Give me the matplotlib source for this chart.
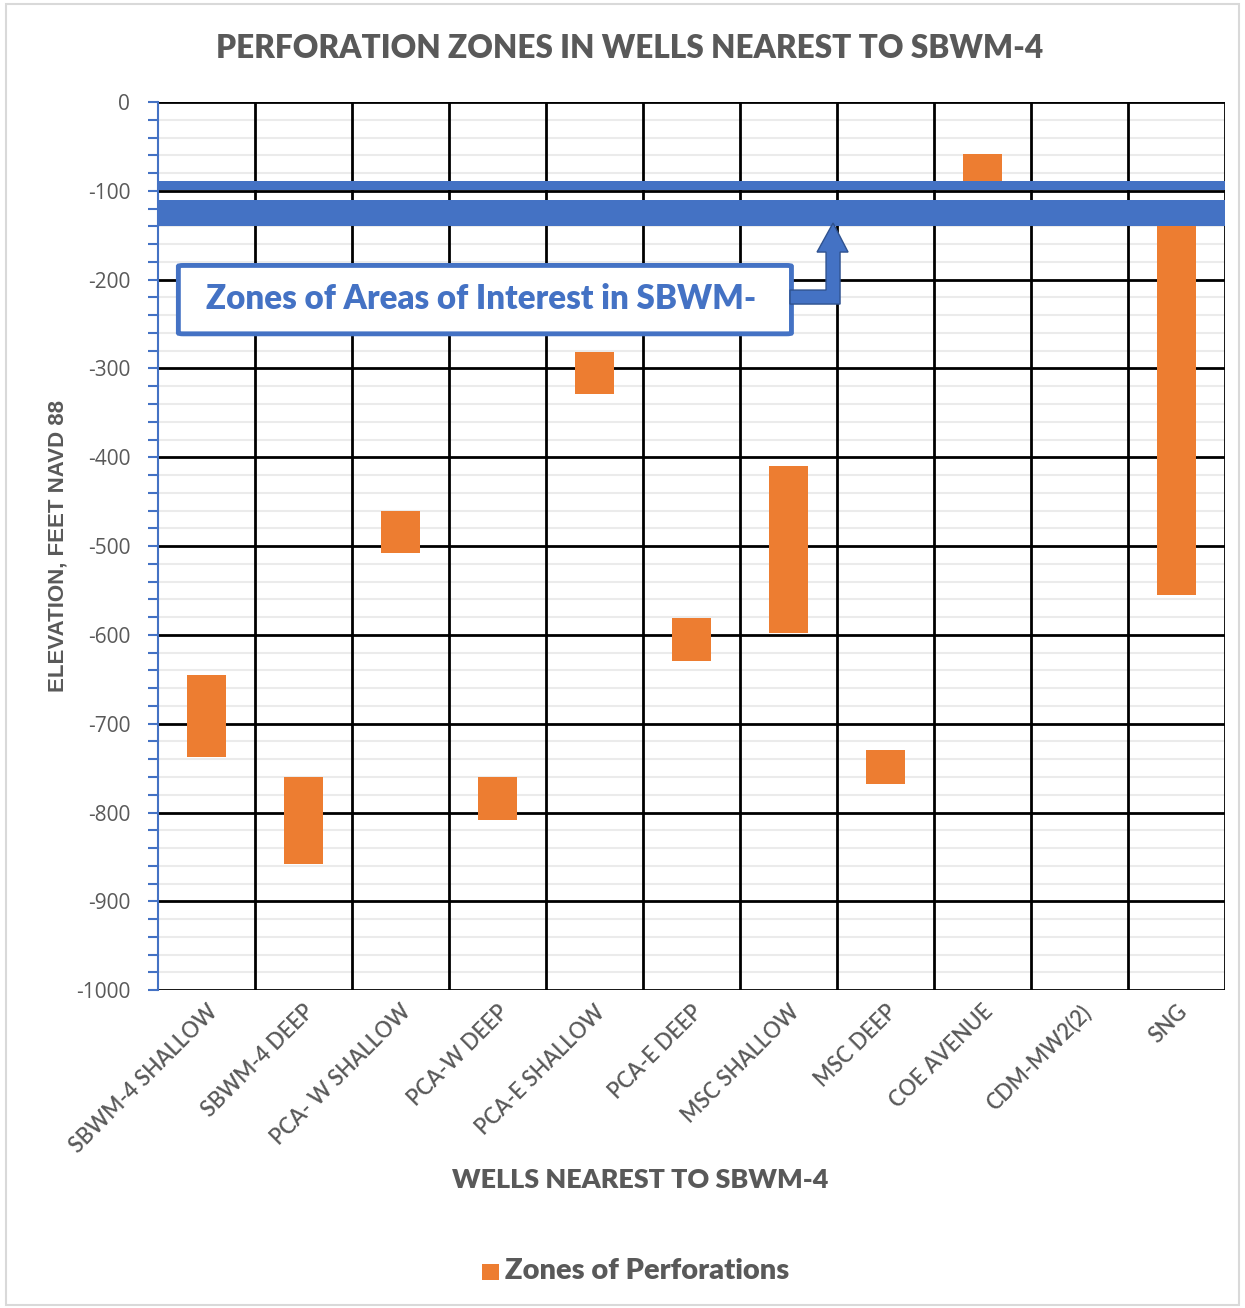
import matplotlib
matplotlib.use("Agg")
import matplotlib.pyplot as plt
from matplotlib.patches import FancyBboxPatch, Polygon, Rectangle
from matplotlib.ticker import MultipleLocator

plt.rcParams['font.family'] = ['Lato', 'DejaVu Sans']

# well names and perforation zones (feet NAVD 88)
wells = ["SBWM-4 SHALLOW", "SBWM-4 DEEP", "PCA- W SHALLOW", "PCA-W DEEP",
         "PCA-E SHALLOW", "PCA-E DEEP", "MSC SHALLOW", "MSC DEEP",
         "COE AVENUE", "CDM-MW2(2)", "SNG"]
zone_top = [-645, -760, -460, -760, -282, -581, -410, -730, -59, None, -140]
zone_bottom = [-738, -858, -508, -808, -329, -629, -598, -768, -89, None, -555]

# zones of interest in SBWM-4 (blue bands)
interest_top = [-88.5, -110]
interest_bottom = [-98.5, -140]

orange = "#ED7D31"
blue = "#4472C4"
gray = "#595959"

fig = plt.figure(figsize=(12.45, 13.08), dpi=100)
ax = fig.add_axes([0.1269, 0.243, 0.984 - 0.1269, 0.922 - 0.243])
ax.set_axisbelow(True)

xs = list(range(len(wells)))
for x, t, b in zip(xs, zone_top, zone_bottom):
    if t is None:
        continue
    ax.bar(x, t - b, bottom=b, width=0.4, color=orange, zorder=3)

for t, b in zip(interest_top, interest_bottom):
    ax.axhspan(b, t, color=blue, zorder=4, lw=0)

ax.set_xlim(-0.5, len(wells) - 0.5)
ax.set_ylim(-1000, 0)

# grid
ax.yaxis.set_major_locator(MultipleLocator(100))
ax.yaxis.set_minor_locator(MultipleLocator(20))
ax.grid(which="minor", axis="y", color="#EBEBEB", lw=1.5)
for v in range(-1000, 1, 100):
    ax.axhline(v, color="black", lw=2, zorder=1)
for k in range(1, len(wells) + 1):
    ax.axvline(k - 0.5, color="black", lw=2, zorder=1)

for s in ["top", "right", "bottom"]:
    ax.spines[s].set_visible(False)
ax.spines["left"].set_color(blue)
ax.spines["left"].set_linewidth(1.5)
ax.spines["left"].set_zorder(5)

ax.tick_params(axis="y", which="both", colors=blue, length=7, width=1.5,
               labelcolor=gray, labelsize=15, pad=13)
ax.set_yticks(range(-1000, 1, 100))
ax.set_yticklabels([str(v) for v in range(-1000, 1, 100)], fontfamily="Open Sans")

ax.set_xticks(xs)
ax.set_xticklabels(wells, rotation=45, ha="right", va="top", rotation_mode="anchor",
                   fontsize=15.5, color=gray, fontweight="semibold")
ax.tick_params(axis="x", length=0, pad=8)

ax.set_xlabel("WELLS NEAREST TO SBWM-4", fontsize=19.4, fontweight="heavy", color=gray,
              labelpad=0)
ax.xaxis.set_label_coords(0.452, -0.2)
ax.set_ylabel("ELEVATION, FEET NAVD 88", fontsize=16, fontweight="bold", color=gray,
              fontfamily="Liberation Sans")
ax.yaxis.set_label_coords(-0.084, 0.5)

fig.text(0.506, 0.963, "PERFORATION ZONES IN WELLS NEAREST TO SBWM-4",
         fontsize=22.7, fontweight="heavy", color=gray, ha="center", va="center")

# annotation box and bent arrow
box = FancyBboxPatch((-0.29, -261), 6.32, 77, boxstyle="round,pad=0,rounding_size=0.05",
                     mutation_aspect=20, fc="white", ec=blue, lw=3.5, zorder=6)
ax.add_patch(box)
ax.text(-0.0, -222, "Zones of Areas of Interest in SBWM-", fontsize=23.8,
        fontweight="heavy", color=blue, ha="left", va="center", zorder=7)

def to_data(px, py):
    return ((px - 158) / 97.0 - 0.5, -(py - 102) / 0.888)

arrow_px = [(790, 290), (826, 290), (826, 252), (817, 252), (833, 223),
            (848, 252), (840, 252), (840, 304), (790, 304)]
arrow = Polygon([to_data(px, py) for px, py in arrow_px], closed=True,
                fc=blue, ec="#2F528F", lw=1, zorder=6)
ax.add_patch(arrow)

# legend
fig.patches.append(Rectangle((0.387, 0.0215), 0.0135, 0.0125, transform=fig.transFigure,
                             fc=orange, ec="none"))
fig.text(0.406, 0.028, "Zones of Perforations", fontsize=20.9, fontweight="heavy",
         color=gray, ha="left", va="center")

# chart border
fig.patches.append(Rectangle((0.005, 0.002), 0.99, 0.995, transform=fig.transFigure,
                             fill=False, ec="#D9D9D9", lw=1.5))

fig.savefig("out.png", dpi=100)
